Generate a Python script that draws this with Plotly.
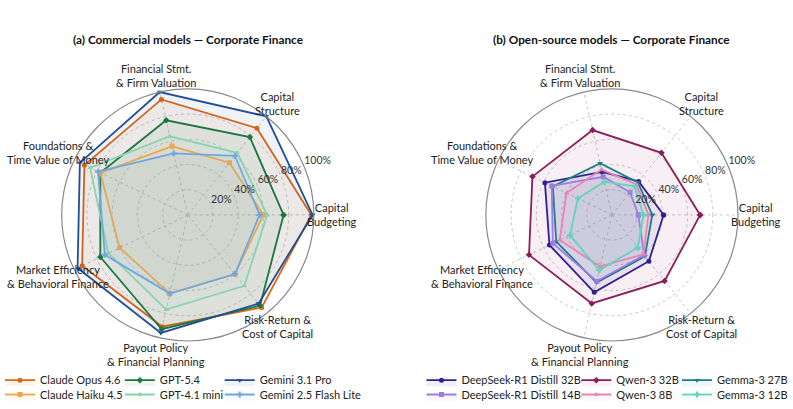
import math
import plotly.graph_objects as go

categories = ["Capital<br>Budgeting", "Capital<br>Structure", "Financial Stmt.<br>& Firm Valuation",
              "Foundations &<br>Time Value of Money", "Market Efficiency<br>& Behavioral Finance",
              "Payout Policy<br>& Financial Planning", "Risk-Return &<br>Cost of Capital"]

# Commercial models (percent)
claude_opus_46 = [98, 88, 94, 91, 93, 91, 94]
claude_haiku_45 = [60, 53, 56, 77, 60, 64, 60]
gpt_54 = [76, 79, 77, 77, 77, 93, 92]
gpt_41_mini = [63, 63, 64, 86, 70, 77, 72]
gemini_31_pro = [99, 100, 100, 95, 97, 96, 90]
gemini_25_flash_lite = [57, 60, 50, 79, 73, 64, 60]

# Open-source models (percent)
deepseek_32b = [41, 34, 35, 59, 55, 63, 47]
deepseek_14b = [21, 23, 31, 53, 52, 54, 41]
qwen3_32b = [70, 63, 69, 70, 73, 72, 67]
qwen3_8b = [29, 31, 37, 40, 46, 42, 40]
gemma3_27b = [32, 33, 42, 52, 49, 55, 42]
gemma3_12b = [25, 29, 27, 30, 37, 45, 33]

radial_ticks = [20, 40, 60, 80, 100]
radial_labels = ["20%", "40%", "60%", "80%", "100%"]

titles = ["(a) Commercial models — Corporate Finance", "(b) Open-source models — Corporate Finance"]

W, H = 793, 409
R = 127
centers = [(187, 216.5), (611.7, 216.5)]
n = len(categories)
angles = [i * 360.0 / n for i in range(n)]

left_series = [
    ("Claude Opus 4.6", claude_opus_46, "#e2640f", "circle"),
    ("GPT-5.4", gpt_54, "#1b7a3a", "diamond"),
    ("Gemini 3.1 Pro", gemini_31_pro, "#1f4f96", "triangle-down"),
    ("Claude Haiku 4.5", claude_haiku_45, "#f4a447", "square"),
    ("GPT-4.1 mini", gpt_41_mini, "#8ad3ae", "triangle-up"),
    ("Gemini 2.5 Flash Lite", gemini_25_flash_lite, "#6fa7e0", "cross"),
]
right_series = [
    ("DeepSeek-R1 Distill 32B", deepseek_32b, "#2b2190", "circle"),
    ("Qwen-3 32B", qwen3_32b, "#8c1d5b", "diamond"),
    ("Gemma-3 27B", gemma3_27b, "#1b7b89", "triangle-down"),
    ("DeepSeek-R1 Distill 14B", deepseek_14b, "#9b7de2", "square"),
    ("Qwen-3 8B", qwen3_8b, "#e884b6", "triangle-up"),
    ("Gemma-3 12B", gemma3_12b, "#62d4b9", "cross"),
]

def rgba(hexc, a):
    h = hexc.lstrip("#")
    return "rgba(%d,%d,%d,%.3f)" % (int(h[0:2], 16), int(h[2:4], 16), int(h[4:6], 16), a)

fig = go.Figure()

# legend slot positions (px): text start x, row y
legend_cols = [[40, 160, 260], [462, 617, 718]]
legend_rows = [383, 397.5]

legend_idx = 0
for p, series in enumerate([left_series, right_series]):
    sub = "polar" if p == 0 else "polar2"
    for k, (name, vals, col, sym) in enumerate(series):
        legend_idx += 1
        lname = "legend" if legend_idx == 1 else "legend%d" % legend_idx
        fig.add_trace(go.Scatterpolar(
            r=vals + vals[:1], theta=angles + angles[:1], subplot=sub,
            mode="lines+markers", name=name, fill="toself",
            fillcolor=rgba(col, 0.07),
            line=dict(color=col, width=1.8),
            marker=dict(color=col, symbol=sym, size=5),
            legend=lname, showlegend=True,
        ))
        colx = legend_cols[p][k % 3]
        rowy = legend_rows[k // 3]
        fig.update_layout({lname: dict(
            x=(colx - 41) / W, y=1 - rowy / H, xanchor="left", yanchor="middle",
            bgcolor="rgba(0,0,0,0)", borderwidth=0,
            font=dict(family="Lato", size=11, color="#222"),
            itemclick=False, itemdoubleclick=False,
        )})
    # radial tick labels
    fig.add_trace(go.Scatterpolar(
        r=radial_ticks, theta=[22.5] * len(radial_ticks), subplot=sub,
        mode="text", text=radial_labels, textposition="top right",
        textfont=dict(family="Lato", size=10.5, color="#333"),
        showlegend=False, cliponaxis=False, hoverinfo="skip",
    ))

annotations = []
for p, (cx, cy) in enumerate(centers):
    annotations.append(dict(
        text="<b>%s</b>" % titles[p], x=cx / W, y=1 - 40 / H, xref="paper", yref="paper",
        xanchor="center", yanchor="middle", showarrow=False,
        font=dict(family="Lato", size=11.8, color="#111")))
    for cat, ang in zip(categories, angles):
        t = math.radians(ang)
        px = cx + 144 * math.cos(t)
        py = cy - 144 * math.sin(t)
        annotations.append(dict(
            text=cat, x=px / W, y=1 - py / H, xref="paper", yref="paper",
            xanchor="center", yanchor="middle", showarrow=False, align="center",
            font=dict(family="Lato", size=11, color="#222")))

def polar_cfg(cx, cy):
    return dict(
        domain=dict(x=[(cx - R) / W, (cx + R) / W], y=[1 - (cy + R) / H, 1 - (cy - R) / H]),
        bgcolor="white",
        radialaxis=dict(range=[0, 100], tickvals=[20, 40, 60, 80], showticklabels=False,
                        ticks="", showline=False, gridcolor="#c8c8c8", griddash="dot",
                        gridwidth=1),
        angularaxis=dict(tickmode="array", tickvals=angles, showticklabels=False, ticks="",
                         rotation=0, direction="counterclockwise", gridcolor="#c8c8c8",
                         griddash="dot", showline=True, linecolor="#8a8a8a", linewidth=1.2),
    )

fig.update_layout(
    width=W, height=H, margin=dict(l=0, r=0, t=0, b=0),
    paper_bgcolor="white", plot_bgcolor="white",
    polar=polar_cfg(*centers[0]), polar2=polar_cfg(*centers[1]),
    annotations=annotations,
    font=dict(family="Lato"),
)

fig.write_html("out.html")
